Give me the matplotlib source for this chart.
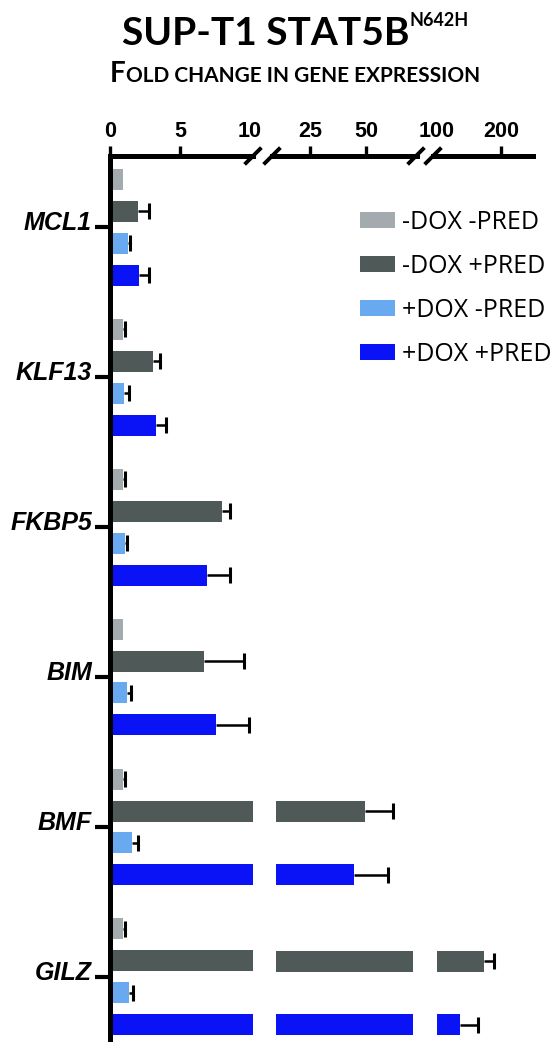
import numpy as np
import matplotlib
matplotlib.use('Agg')
import matplotlib.pyplot as plt
from matplotlib.patches import Patch
from matplotlib.transforms import ScaledTranslation

genes = ['MCL1', 'KLF13', 'FKBP5', 'BIM', 'BMF', 'GILZ']
conditions = ['-DOX -PRED', '-DOX +PRED', '+DOX -PRED', '+DOX +PRED']
colors = ['#a3abaf', '#4e5958', '#69a9f0', '#0a12f6']

# mean fold change per gene, one list per condition
fc_dox_minus_pred_minus = [0.93, 0.95, 0.95, 0.95, 0.95, 0.95]
fc_dox_minus_pred_plus = [2.0, 3.1, 8.0, 6.7, 49.6, 173.0]
fc_dox_plus_pred_minus = [1.3, 1.0, 1.07, 1.2, 1.6, 1.36]
fc_dox_plus_pred_plus = [2.07, 3.3, 6.9, 7.6, 44.6, 136.0]

# upper error (SEM)
err_dox_minus_pred_minus = [0.0, 0.15, 0.15, 0.0, 0.15, 0.15]
err_dox_minus_pred_plus = [0.8, 0.5, 0.6, 2.9, 12.5, 16.0]
err_dox_plus_pred_minus = [0.12, 0.36, 0.13, 0.3, 0.4, 0.25]
err_dox_plus_pred_plus = [0.73, 0.7, 1.7, 2.3, 15.4, 28.0]

values = [fc_dox_minus_pred_minus, fc_dox_minus_pred_plus,
          fc_dox_plus_pred_minus, fc_dox_plus_pred_plus]
errors = [err_dox_minus_pred_minus, err_dox_minus_pred_plus,
          err_dox_plus_pred_minus, err_dox_plus_pred_plus]

# broken x axis: (bar start, bar end, view left, view right, ticks)
segments = [
    (0, 10.2, 0, 10.2, [0, 5, 10]),
    (10, 71, 8.0, 72.8, [25, 50]),
    (100, 250, 93.5, 250, [100, 200]),
]
px_per_unit = [14.0, 2.24, 0.64]
lefts_px = [110, 276.4 - 2.0 * 2.24, 437 - 6.5 * 0.64]

W, H = 560, 1042
ax_top = 156
fig = plt.figure(figsize=(W / 100, H / 100), dpi=100)

axes = []
for (lo, hi, vlo, vhi, ticks), ppu, lpx in zip(segments, px_per_unit, lefts_px):
    wpx = (vhi - vlo) * ppu
    axes.append(fig.add_axes([lpx / W, 0, wpx / W, (H - ax_top) / H]))

bar_h = 0.14
step = 32 / 150
offsets = (np.arange(4) - 1.5) * step
ypos = np.arange(len(genes))

for ax, (lo, hi, vlo, vhi, ticks) in zip(axes, segments):
    for k in range(4):
        v = np.array(values[k])
        e = np.array(errors[k])
        y = ypos + offsets[k]
        show = v > lo
        w = np.minimum(v, hi) - lo
        ax.barh(y[show], w[show], left=lo, height=bar_h, color=colors[k],
                edgecolor='none')
        # one-sided error bars: line out to the cap only
        inside = (v > lo) & (v <= hi) & (e > 0)
        ax.hlines(y[inside], v[inside], v[inside] + e[inside],
                  color='black', lw=1.8)
        ax.plot(v[inside] + e[inside], y[inside], ls='none', marker='|',
                ms=11, mew=2.2, color='black')
    ax.set_xlim(vlo, vhi)
    ax.set_ylim(len(genes) - 1 + 65 / 150, -71 / 150)
    ax.xaxis.tick_top()
    ax.set_xticks(ticks)
    ax.set_xticklabels([str(t) for t in ticks])
    ax.tick_params(axis='x', direction='out', length=7, width=2.4, pad=3,
                   labelsize=15.5)
    for lbl in ax.get_xticklabels():
        lbl.set_fontfamily('Liberation Sans')
        lbl.set_fontweight('bold')
    for s in ['bottom', 'right', 'left']:
        ax.spines[s].set_visible(False)
    ax.spines['top'].set_linewidth(3.6)
    ax.patch.set_visible(False)
    if ax is not axes[0]:
        ax.set_yticks([])

# no tick marks where the axis breaks
axes[0].xaxis.get_major_ticks()[2].tick2line.set_visible(False)
axes[2].xaxis.get_major_ticks()[0].tick2line.set_visible(False)

ax1 = axes[0]
ax1.spines['left'].set_visible(True)
ax1.spines['left'].set_linewidth(3.6)
ax1.set_yticks(ypos)
ax1.set_yticklabels(genes)
ax1.tick_params(axis='y', direction='out', length=11, width=3.0, pad=2)
for lbl in ax1.get_yticklabels():
    lbl.set_fontfamily('Liberation Sans')
    lbl.set_fontweight('bold')
    lbl.set_fontstyle('italic')
    lbl.set_fontsize(18)
    lbl.set_transform(lbl.get_transform()
                      + ScaledTranslation(0, 0.06, fig.dpi_scale_trans))


# break marks on the top axis line
def slash(xc):
    fig.add_artist(plt.Line2D([(xc - 7) / W, (xc + 7) / W],
                              [1 - (ax_top + 7) / H, 1 - (ax_top - 7) / H],
                              color='black', lw=2.8))


for xc in [253, 272, 416, 433]:
    slash(xc)

# legend
handles = [Patch(facecolor=c, edgecolor='none') for c in colors]
leg = fig.legend(handles, conditions, loc='upper left',
                 bbox_to_anchor=(360 / W, 1 - 210 / H), frameon=False,
                 prop={'family': 'Open Sans', 'size': 18},
                 handlelength=1.4, handleheight=0.64, handletextpad=0.3,
                 labelspacing=0.76, borderpad=0, borderaxespad=0)

# title with superscript and small-caps subtitle
renderer = fig.canvas.get_renderer()


def text_run(parts, xc, yb, weight):
    objs = []
    for s, size, dy in parts:
        t = fig.text(0, 0, s, fontsize=size, family='Lato', weight=weight,
                     va='baseline', ha='left', transform=None)
        objs.append((t, dy))
    widths = [t.get_window_extent(renderer).width for t, _ in objs]
    x = xc - sum(widths) / 2
    for (t, dy), w in zip(objs, widths):
        t.set_position((x, H - yb + dy))
        x += w


text_run([('SUP-T1 STAT5B', 28, 0), ('N642H', 13, 19)], 295, 45, 'bold')
text_run([('F', 20, 0), ('OLD CHANGE IN GENE EXPRESSION', 15, 0)], 295, 82,
         'bold')

fig.savefig('out.png', dpi=100)
